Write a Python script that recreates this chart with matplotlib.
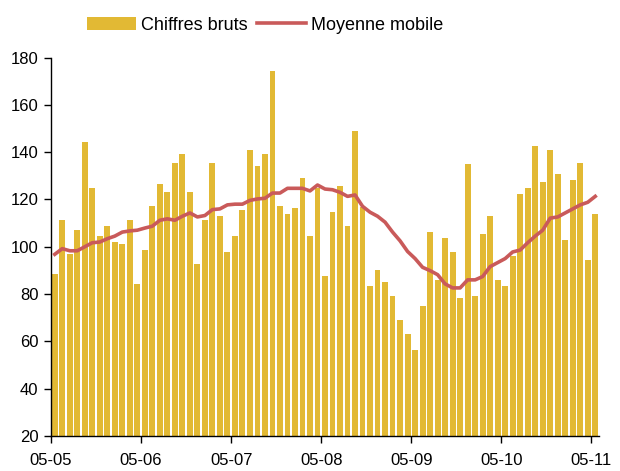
import numpy as np
import matplotlib
matplotlib.use("Agg")
import matplotlib.pyplot as plt

plt.rcParams["font.family"] = ["Liberation Sans", "DejaVu Sans"]

# monthly values, May 2005 -> May 2011
chiffres_bruts = [
    88.4, 111.2, 96.8, 107.0, 144.1, 124.7, 104.5, 108.7, 102.0, 101.1, 111.2, 84.3,
    98.6, 117.1, 126.4, 123.0, 135.6, 139.0, 123.0, 92.7, 111.2, 135.6, 112.9, 97.8,
    104.5, 115.4, 140.7, 134.0, 139.0, 174.4, 117.1, 113.8, 116.3, 128.9, 104.5, 125.0,
    87.6, 114.6, 125.5, 108.7, 149.1, 117.0, 83.4, 90.2, 85.1, 79.2, 69.1, 63.2,
    56.5, 75.0, 106.2, 86.0, 103.6, 97.8, 78.4, 134.8, 79.2, 105.3, 112.9, 86.0,
    83.4, 96.1, 122.2, 124.7, 142.4, 127.2, 140.7, 130.6, 102.8, 128.1, 135.6, 94.4,
    113.8,
]
moyenne_mobile = [
    96.8, 99.2, 98.3, 98.3, 100.0, 101.7, 102.0, 103.4, 104.5, 106.2, 106.7, 107.0,
    107.9, 108.7, 111.2, 111.8, 111.2, 112.9, 114.3, 112.6, 113.2, 115.7, 116.0, 117.7,
    118.0, 118.0, 119.6, 120.2, 120.5, 122.7, 122.7, 124.7, 124.7, 124.7, 123.6, 126.1,
    124.4, 124.1, 123.0, 121.3, 121.9, 117.1, 114.6, 112.9, 110.4, 106.2, 102.5, 98.0,
    95.0, 91.3, 89.9, 88.2, 84.3, 82.6, 82.6, 86.0, 86.0, 87.4, 91.6, 93.3,
    95.0, 97.8, 98.6, 101.7, 104.5, 107.0, 112.1, 112.6, 114.3, 116.0, 117.7, 118.8,
    121.3,
]
tick_labels = ["05-05", "05-06", "05-07", "05-08", "05-09", "05-10", "05-11"]

bar_color = "#E2B934"
line_color = "#C95A5A"

fig = plt.figure(figsize=(6.2, 4.71), dpi=100)
ax = fig.add_axes([51 / 620, 1 - 436 / 471, 548 / 620, 378.5 / 471])

x = np.arange(len(chiffres_bruts)) + 0.5
bars = ax.bar(x, chiffres_bruts, width=0.78, color=bar_color, label="Chiffres bruts", zorder=2)
line, = ax.plot(x, moyenne_mobile, color=line_color, lw=2.6, label="Moyenne mobile", zorder=3)

ax.set_xlim(0, len(chiffres_bruts))
ax.set_ylim(20, 180)
ax.set_yticks(np.arange(20, 181, 20))
ax.set_xticks(np.arange(len(tick_labels)) * 12)
ax.set_xticklabels(tick_labels)

for s in ["top", "right"]:
    ax.spines[s].set_visible(False)
for s in ["left", "bottom"]:
    ax.spines[s].set_linewidth(1.0)
    ax.spines[s].set_color("black")
ax.tick_params(axis="both", direction="out", length=5, width=1, labelsize=12, colors="black")
ax.tick_params(axis="x", pad=7)
ax.tick_params(axis="y", pad=4)

fig.legend(handles=[bars, line], loc="center left", bbox_to_anchor=(87 / 620, 1 - 25 / 471),
           ncol=2, frameon=False, fontsize=13, handlelength=2.7, handletextpad=0.3,
           columnspacing=0.5, borderpad=0, borderaxespad=0)

fig.savefig("out.png", dpi=100)
